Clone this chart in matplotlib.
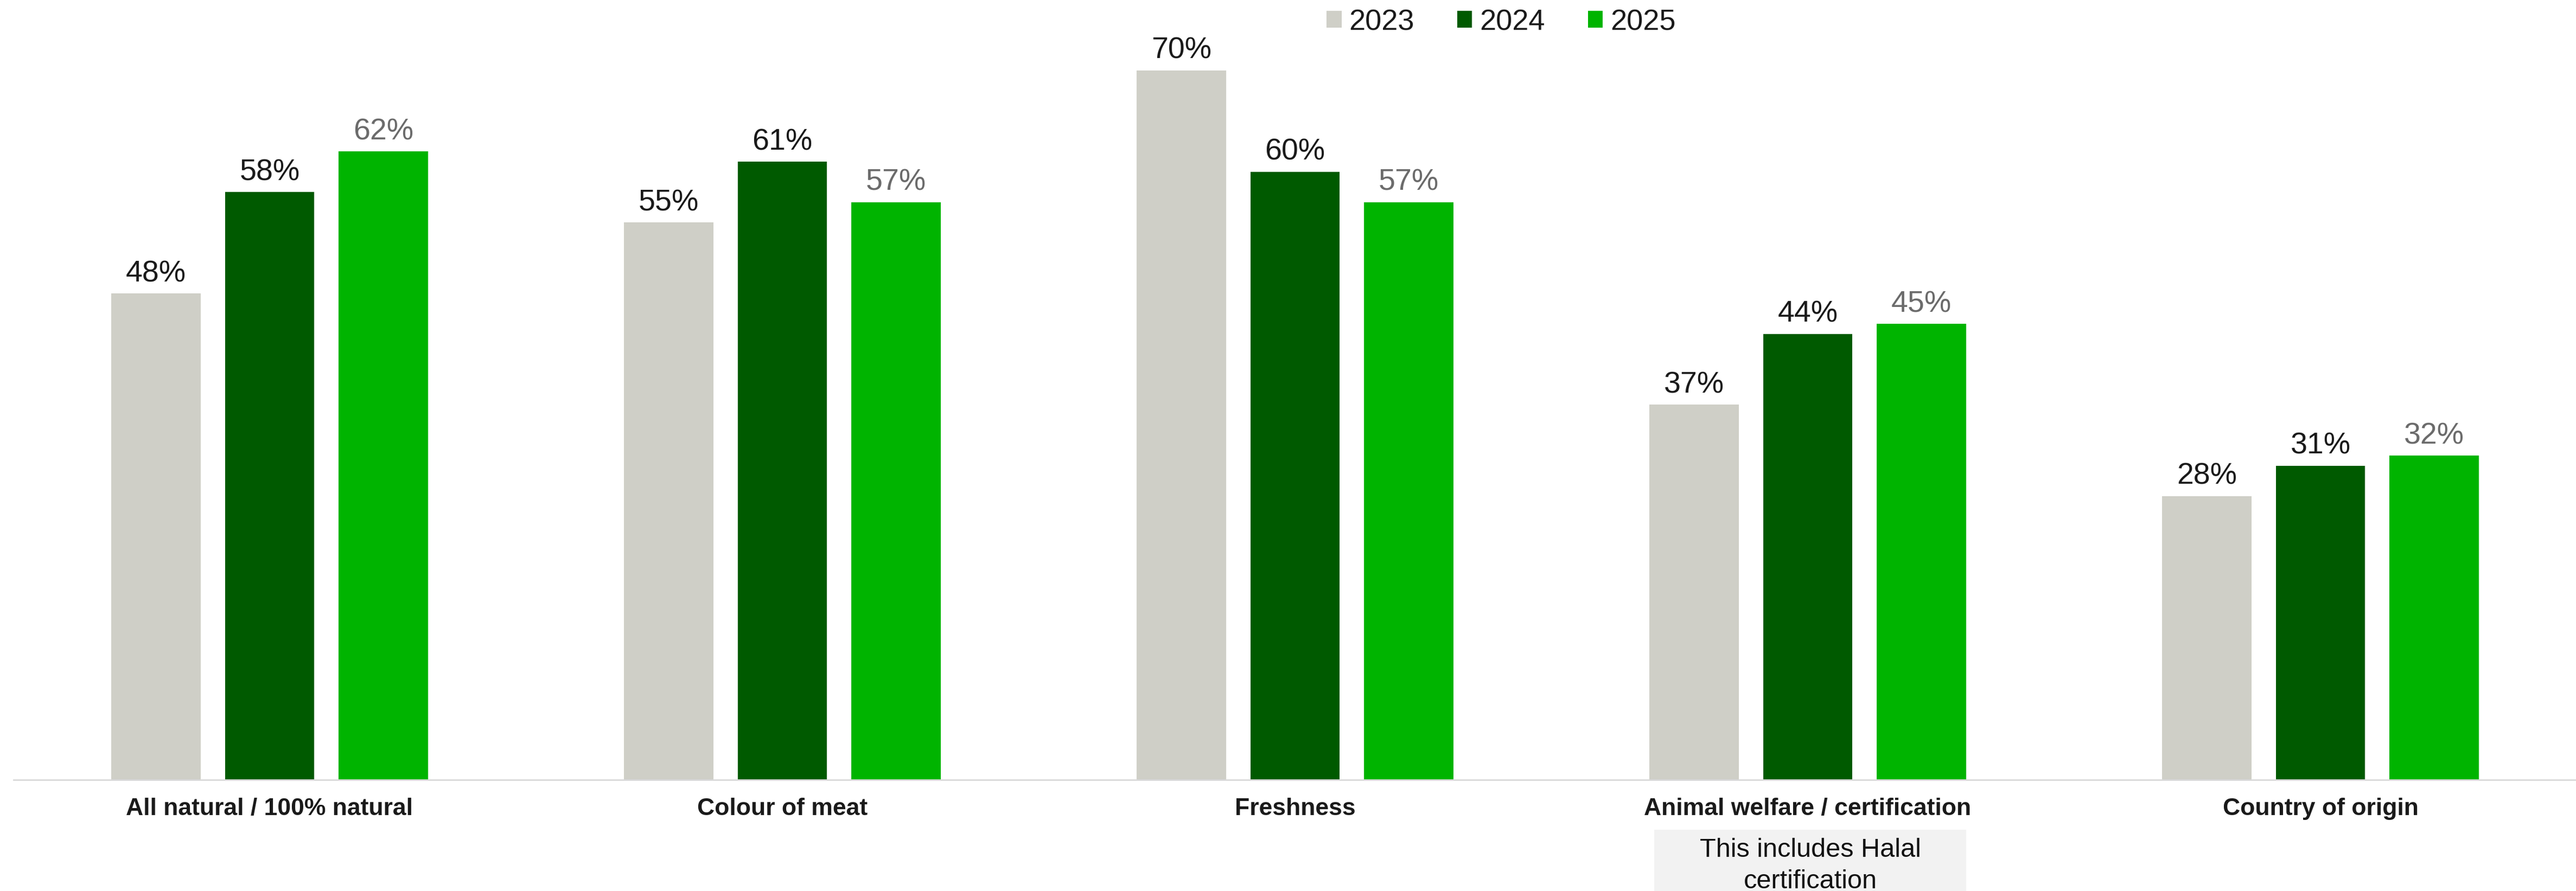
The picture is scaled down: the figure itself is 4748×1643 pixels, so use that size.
import matplotlib
matplotlib.use("Agg")
import matplotlib.pyplot as plt
from matplotlib.patches import Patch, Rectangle
import matplotlib.transforms as mtransforms
import numpy as np

plt.rcParams['font.family'] = ['Liberation Sans', 'DejaVu Sans']

categories = ["All natural / 100% natural", "Colour of meat", "Freshness",
              "Animal welfare / certification", "Country of origin"]
years = ["2023", "2024", "2025"]
v2023 = [48, 55, 70, 37, 28]
v2024 = [58, 61, 60, 44, 31]
v2025 = [62, 57, 57, 45, 32]
series = [v2023, v2024, v2025]
colors = ["#CFCFC7", "#005A00", "#00B400"]
label_colors = ["#1a1a1a", "#1a1a1a", "#6b6b6b"]
note_text = ["This includes Halal", "certification"]
note_category = 3

W, H = 4748, 1643
fig = plt.figure(figsize=(W / 100, H / 100), dpi=100)
ax = fig.add_axes([24.5 / W, 205 / H, 945 * 5 / W, 77 * 18.69 / H])

x = np.arange(len(categories))
offset = 0.2215
width = 0.1745
for i, (vals, c, lc) in enumerate(zip(series, colors, label_colors)):
    pos = x + (i - 1) * offset
    ax.bar(pos, vals, width=width, color=c, label=years[i], zorder=2)
    for xp, v in zip(pos, vals):
        ax.annotate(f"{v}%", (xp, v), xytext=(0, 7), textcoords="offset points",
                    ha="center", va="bottom", fontsize=40, color=lc)

ax.set_xlim(-0.5, len(categories) - 0.5)
ax.set_ylim(0, 77)
for s in ["top", "right", "left"]:
    ax.spines[s].set_visible(False)
ax.spines["bottom"].set_color("#d9d9d9")
ax.spines["bottom"].set_linewidth(2)
ax.set_yticks([])
ax.set_xticks([])

for xi, cat in zip(x, categories):
    ax.annotate(cat, (xi, 0), xytext=(0, -46.8), textcoords="offset points",
                ha="center", va="baseline", fontsize=32, fontweight="bold",
                color="#1a1a1a", annotation_clip=False)

# note box under one category
trans = mtransforms.blended_transform_factory(ax.transData, fig.transFigure)
half = 287.5 / 945
rect = Rectangle((note_category - half + 0.005, 0), 2 * half, 113 / H,
                 transform=trans, facecolor="#f2f2f2", edgecolor="none",
                 clip_on=False, zorder=0)
fig.add_artist(rect)
for j, line in enumerate(note_text):
    yb = 1 - (1580 + j * 58) / H
    fig.text(0, 0, line, transform=trans, fontsize=35, color="#111111",
             ha="center", va="baseline").set_position((note_category + 0.005, yb))

handles = [Patch(facecolor=c, edgecolor="none") for c in colors]
leg = fig.legend(handles, years, loc="center", bbox_to_anchor=(2767 / W, 1 - 41 / H),
                 ncol=3, frameon=False, fontsize=39, handlelength=0.5, handleheight=0.5,
                 handletextpad=0.26, columnspacing=1.46, borderpad=0, borderaxespad=0)
for t in leg.get_texts():
    t.set_color("#1a1a1a")

fig.savefig("out.png", dpi=100, facecolor="white")
